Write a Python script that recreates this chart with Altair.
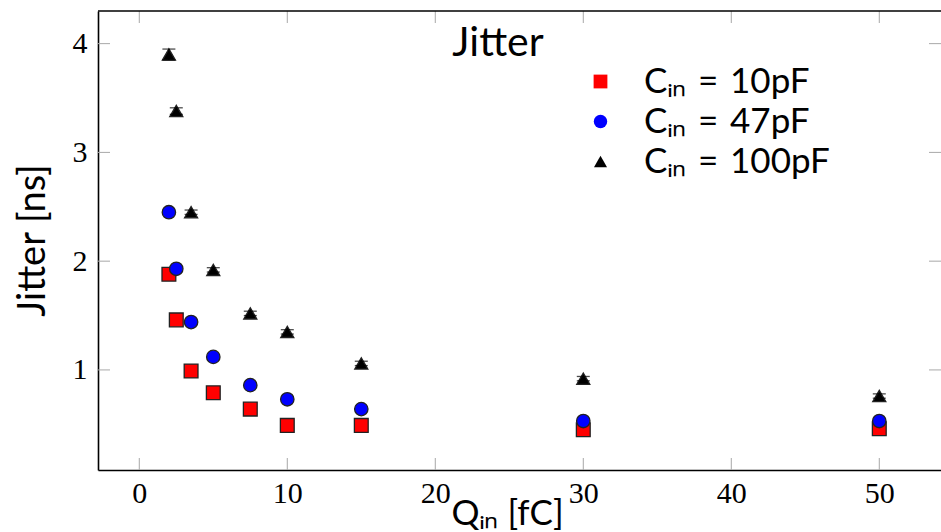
import altair as alt
import pandas as pd

# ---- data ----
q_in = [2, 2.5, 3.5, 5, 7.5, 10, 15, 30, 50]
jitter_10pf = [1.88, 1.46, 0.99, 0.79, 0.64, 0.49, 0.49, 0.45, 0.46]
jitter_47pf = [2.45, 1.93, 1.44, 1.12, 0.86, 0.73, 0.64, 0.53, 0.53]
jitter_100pf = [3.90, 3.38, 2.45, 1.92, 1.52, 1.35, 1.06, 0.92, 0.76]
err_100pf = [0.05, 0.03, 0.02, 0.02, 0.02, 0.02, 0.02, 0.02, 0.02]
series_labels = ["C\u1d62\u2099\u2004=\u200410pF", "C\u1d62\u2099\u2004=\u200447pF", "C\u1d62\u2099\u2004=\u2004100pF"]
series_colors = ["#ff0000", "#0000ff", "#000000"]
series_shapes = ["square", "circle", "triangle-up"]
series_sizes = [190, 170, 220]
x_ticks = [0, 10, 20, 30, 40, 50]
y_ticks = [1, 2, 3, 4]

W, H = 843, 459

rows = []
for lab, vals in zip(series_labels, [jitter_10pf, jitter_47pf, jitter_100pf]):
    for q, v in zip(q_in, vals):
        rows.append({"q": q, "jitter": v, "series": lab})
df = pd.DataFrame(rows)

df_err = pd.DataFrame({
    "q": q_in,
    "lo": [v - e for v, e in zip(jitter_100pf, err_100pf)],
    "hi": [v + e for v, e in zip(jitter_100pf, err_100pf)],
})
df_xt = pd.DataFrame({"t": x_ticks})
df_yt = pd.DataFrame({"t": y_ticks})
dummy = pd.DataFrame({"a": [0]})

xs = alt.Scale(domain=[-2.79, 54.17], nice=False, zero=False)
ys = alt.Scale(domain=[0.08, 4.30], nice=False, zero=False)

X_TITLE = "Q\u1d62\u2099 [fC]"
Y_TITLE = "Jitter [ns]"

x_axis = alt.Axis(values=x_ticks, ticks=False, grid=False, domainColor="black", domainWidth=1.6,
                  labelFont="Liberation Serif", labelFontSize=30, labelColor="black", labelPadding=8,
                  titleFont="Lato", titleFontSize=35, titleFontWeight="normal",
                  titleColor="black", titleX=409, titleY=54, titleBaseline="alphabetic", titleAnchor="middle",
                  titleAlign="center")
y_axis = alt.Axis(values=y_ticks, ticks=False, grid=False, domainColor="black", domainWidth=1.6,
                  labelFont="Liberation Serif", labelFontSize=30, labelColor="black", labelPadding=11,
                  titleFont="Lato", titleFontSize=38, titleFontWeight="normal",
                  titleColor="black", titleX=-54, titleY=229, titleAngle=-90, titleBaseline="alphabetic",
                  titleAlign="center", titleAnchor="middle")


def X(field):
    return alt.X(field, scale=xs, axis=x_axis, title=X_TITLE)


def Y(field):
    return alt.Y(field, scale=ys, axis=y_axis, title=Y_TITLE)


points = alt.Chart(df).mark_point(filled=True, opacity=1, stroke="#222222", strokeWidth=1.3).encode(
    x=X("q:Q"),
    y=Y("jitter:Q"),
    color=alt.Color("series:N", scale=alt.Scale(domain=series_labels, range=series_colors),
                    legend=alt.Legend(title=None, orient="none", legendX=485, legendY=53,
                                      labelFont="Lato", labelFontSize=35, labelColor="black",
                                      labelLimit=0,
                                      symbolSize=90, symbolStrokeWidth=0, labelOffset=26,
                                      rowPadding=4, padding=0)),
    shape=alt.Shape("series:N", scale=alt.Scale(domain=series_labels, range=series_shapes)),
    size=alt.Size("series:N", scale=alt.Scale(domain=series_labels, range=series_sizes), legend=None),
    order=alt.Order("order:Q"),
).transform_calculate(order="indexof(%s, datum.series)" % str(series_labels).replace("'", '"'))

err_rule = alt.Chart(df_err).mark_rule(color="black", strokeWidth=1.2).encode(
    x=X("q:Q"), y=Y("lo:Q"), y2="hi:Q",
)
cap_lo = alt.Chart(df_err).mark_tick(color="black", orient="horizontal", size=13, thickness=1.3).encode(
    x=X("q:Q"), y=Y("lo:Q"),
)
cap_hi = alt.Chart(df_err).mark_tick(color="black", orient="horizontal", size=13, thickness=1.3).encode(
    x=X("q:Q"), y=Y("hi:Q"),
)

tick_col = "#a8a8a8"
xt_bottom = alt.Chart(df_xt).mark_rule(color=tick_col, strokeWidth=1).encode(
    x=X("t:Q"), y=alt.value(H - 12), y2=alt.value(H))
xt_top = alt.Chart(df_xt).mark_rule(color=tick_col, strokeWidth=1).encode(
    x=X("t:Q"), y=alt.value(0), y2=alt.value(12))
yt_left = alt.Chart(df_yt).mark_rule(color=tick_col, strokeWidth=1).encode(
    y=Y("t:Q"), x=alt.value(0), x2=alt.value(12))
yt_right = alt.Chart(df_yt).mark_rule(color=tick_col, strokeWidth=1).encode(
    y=Y("t:Q"), x=alt.value(W - 12), x2=alt.value(W))

top_border = alt.Chart(dummy).mark_rule(color="black", strokeWidth=1.6).encode(
    x=alt.value(0), x2=alt.value(W), y=alt.value(0))

title_txt = alt.Chart(dummy).mark_text(text="Jitter", font="Lato", fontSize=41, color="black",
                                        align="center", baseline="alphabetic").encode(
    x=alt.value(400), y=alt.value(45))

chart = alt.layer(
    points, xt_bottom, xt_top, yt_left, yt_right, top_border, err_rule, cap_lo, cap_hi, title_txt
).properties(
    width=W, height=H, autosize="none",
    padding={"left": 98, "top": 11, "right": 0, "bottom": 62},
    background="white",
).configure_view(stroke=None)

chart.save("out.html", embed_options={"renderer": "svg", "actions": False})
